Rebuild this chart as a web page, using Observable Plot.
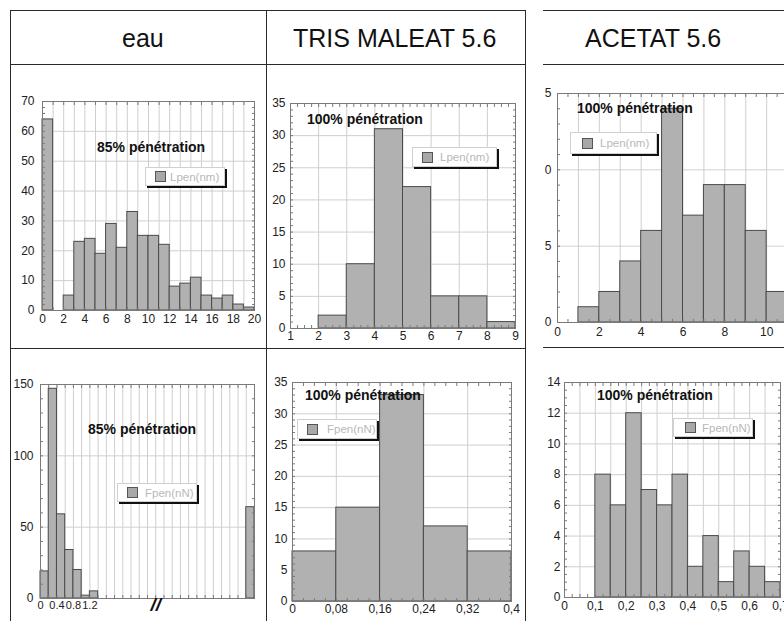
<!DOCTYPE html>
<html>
<head>
<meta charset="utf-8">
<script src="https://cdn.jsdelivr.net/npm/d3@7"></script>
<script src="https://cdn.jsdelivr.net/npm/@observablehq/plot@0.6"></script>
<style>
  html, body { margin: 0; padding: 0; background: #fff; }
  body { width: 784px; height: 621px; overflow: hidden; position: relative; font-family: "Liberation Sans", Arial, sans-serif; }
  .hl { position: absolute; height: 0; border-top: 1.5px solid #2a2a2a; }
  .vl { position: absolute; width: 0; border-left: 1.5px solid #2a2a2a; }
  .head { position: absolute; font-size: 25px; color: #111; white-space: nowrap; line-height: 1; }
  .pen { position: absolute; font-size: 14px; font-weight: bold; color: #111; white-space: nowrap; line-height: 1; }
  .leg { position: absolute; background: #fff; border: 1px solid #d0d0d0; box-shadow: 2px 2px 0 #111; box-sizing: border-box; }
  .leg .sw { position: absolute; width: 9px; height: 9px; background: #a8a8a8; border: 1px solid #555; }
  .leg .lt { position: absolute; font-size: 11.5px; color: #b8b8b8; white-space: nowrap; line-height: 1; }
  #col3 { position: absolute; left: 543px; top: 0; width: 241px; height: 621px; overflow: hidden; }
  svg { max-width: none !important; }
</style>
</head>
<body>
<div id="root"></div>
<div id="col3"></div>
<script>
// ---- Data ----
const columnTitles = ["eau", "TRIS MALEAT 5.6", "ACETAT 5.6"];
const penetrationLabels = ["85% pénétration", "100% pénétration", "100% pénétration"];
const legendLabels = ["Lpen(nm)", "Fpen(nN)"];

// Row 1: Lpen (nm) histograms
const eauLpenBins = [0,1,2,3,4,5,6,7,8,9,10,11,12,13,14,15,16,17,18,19];
const eauLpenCounts = [64,0,5,23,24,19,29,21,33,25,25,22,8,9,11,5,4,5,2,1];
const eauLpenXTicks = [0,2,4,6,8,10,12,14,16,18,20];
const eauLpenYTicks = [0,10,20,30,40,50,60,70];

const trisLpenBins = [1,2,3,4,5,6,7,8];
const trisLpenCounts = [0,2,10,31,22,5,5,1];
const trisLpenXTicks = [1,2,3,4,5,6,7,8,9];
const trisLpenYTicks = [0,5,10,15,20,25,30,35];

const acetatLpenBins = [1,2,3,4,5,6,7,8,9,10];
const acetatLpenCounts = [1,2,4,6,14,7,9,9,6,2];
const acetatLpenXTicks = [0,2,4,6,8,10];
const acetatLpenYTicks = [0,5,10,15];
// the scanned figure is cropped on its left: only the last digit of each y label shows
const acetatLpenYTickLabels = ["0","5","0","5"];

// Row 2: Fpen (nN) histograms
const eauFpenBins = [0,0.2,0.4,0.6,0.8,1.0,1.2,5.0];
const eauFpenCounts = [19,147,59,34,20,2,5,64];
const eauFpenXTicks = [0,0.4,0.8,1.2];
const eauFpenYTicks = [0,50,100,150];
const eauFpenBreak = [{x: 2.8, text: "//"}];

const trisFpenBins = [0,0.08,0.16,0.24,0.32];
const trisFpenCounts = [8,15,33,12,8];
const trisFpenXTicks = [0,0.08,0.16,0.24,0.32,0.4];
const trisFpenYTicks = [0,5,10,15,20,25,30,35];

const acetatFpenBins = [0.10,0.15,0.20,0.25,0.30,0.35,0.40,0.45,0.50,0.55,0.60,0.65];
const acetatFpenCounts = [8,6,12,7,6,8,2,4,1,3,2,1];
const acetatFpenXTicks = [0,0.1,0.2,0.3,0.4,0.5,0.6,0.7];
const acetatFpenYTicks = [0,2,4,6,8,10,12,14];

// ---- helpers ----
const comma = d => String(d).replace(".", ",");
const FRAME = "#7a7a7a";
const GRID = "#cfcfcf";

function hist(spec) {
  const data = spec.bins.map((b, i) => ({x1: b, x2: b + spec.binWidth, y: spec.counts[i]}));
  const marks = [
    Plot.gridX(spec.gridX, {stroke: GRID, strokeOpacity: 1}),
    Plot.gridY(spec.gridY, {stroke: GRID, strokeOpacity: 1}),
    Plot.rectY(data, {x1: "x1", x2: "x2", y: "y", fill: "#b1b1b1", stroke: "#4a4a4a", strokeWidth: 1}),
    Plot.frame({stroke: FRAME}),
    Plot.axisX(spec.minorX, {anchor: "bottom", tickSize: -3, tickFormat: () => "", label: null, stroke: FRAME}),
    Plot.axisX(spec.minorX, {anchor: "top", tickSize: -3, tickFormat: () => "", label: null, stroke: FRAME}),
    Plot.axisY(spec.minorY, {anchor: "left", tickSize: -3, tickFormat: () => "", label: null, stroke: FRAME}),
    Plot.axisY(spec.minorY, {anchor: "right", tickSize: -3, tickFormat: () => "", label: null, stroke: FRAME}),
    Plot.axisX(spec.xTicks, {anchor: "bottom", tickSize: 0, tickPadding: spec.xPad, tickFormat: spec.xFormat || (d => String(d)), label: null, fontSize: spec.xFont || 12, fill: "#222"}),
    Plot.axisY(spec.yTicks, {anchor: "left", tickSize: 0, tickPadding: spec.yPad, tickFormat: spec.yFormat || (d => String(d)), label: null, fontSize: 12, fill: "#222"})
  ];
  if (spec.extra) marks.push(...spec.extra);
  const svg = Plot.plot({
    width: spec.width, height: spec.height,
    marginLeft: spec.m[3], marginRight: spec.m[1], marginTop: spec.m[0], marginBottom: spec.m[2],
    style: {fontFamily: '"Liberation Sans", Arial, sans-serif', background: "transparent", overflow: "visible"},
    x: {domain: spec.xDomain, label: null},
    y: {domain: spec.yDomain, label: null},
    marks
  });
  svg.style.position = "absolute";
  svg.style.left = spec.left + "px";
  svg.style.top = spec.top + "px";
  svg.style.maxWidth = "none";
  svg.style.width = spec.width + "px";
  svg.style.height = spec.height + "px";
  return svg;
}

const root = document.getElementById("root");
const col3 = document.getElementById("col3");

// Row 1
root.appendChild(hist({
  bins: eauLpenBins, counts: eauLpenCounts, binWidth: 1,
  xDomain: [0, 20], yDomain: [0, 70],
  xTicks: eauLpenXTicks, yTicks: eauLpenYTicks,
  gridX: d3.range(0, 21, 1), gridY: d3.range(10, 70, 10),
  minorX: d3.range(0, 21, 1), minorY: d3.range(0, 71, 2),
  left: 11, top: 67, width: 254, height: 280, m: [34, 11, 37, 31], xPad: 4, yPad: 8
}));
root.appendChild(hist({
  bins: trisLpenBins, counts: trisLpenCounts, binWidth: 1,
  xDomain: [1, 9], yDomain: [0, 35],
  xTicks: trisLpenXTicks, yTicks: trisLpenYTicks,
  gridX: d3.range(1, 10, 1), gridY: d3.range(5, 35, 5),
  minorX: d3.range(1, 9.01, 0.25), minorY: d3.range(0, 35.01, 1),
  left: 267, top: 67, width: 257, height: 280, m: [36, 9, 19, 23], xPad: 3, yPad: 5
}));
col3.appendChild(hist({
  bins: acetatLpenBins, counts: acetatLpenCounts, binWidth: 1,
  xDomain: [0, 12], yDomain: [0, 15],
  xTicks: acetatLpenXTicks, yTicks: acetatLpenYTicks,
  yFormat: d => acetatLpenYTickLabels[acetatLpenYTicks.indexOf(d)],
  gridX: d3.range(0, 13, 1), gridY: d3.range(5, 15, 5),
  minorX: d3.range(0, 12.01, 0.5), minorY: d3.range(0, 15.01, 1),
  left: 530 - 543, top: 67, width: 290, height: 280, m: [26, 12, 25, 27], xPad: 5, yPad: 6
}));

// Row 2
root.appendChild(hist({
  bins: eauFpenBins, counts: eauFpenCounts, binWidth: 0.2,
  xDomain: [0, 5.2], yDomain: [0, 150],
  xTicks: eauFpenXTicks, yTicks: eauFpenYTicks, xFont: 11,
  gridX: d3.range(0, 5.21, 0.2), gridY: [50, 100],
  minorX: d3.range(0, 5.21, 0.2), minorY: d3.range(0, 150.1, 10),
  left: 11, top: 351, width: 254, height: 270, m: [33, 11, 23, 29], xPad: 3, yPad: 7,
  extra: [Plot.text(eauFpenBreak, {x: "x", y: () => 0, text: "text", fontSize: 19, fontWeight: "bold", fontStyle: "italic", dy: 6, fill: "#111"})]
}));
root.appendChild(hist({
  bins: trisFpenBins, counts: trisFpenCounts, binWidth: 0.08,
  xDomain: [0, 0.4], yDomain: [0, 35],
  xTicks: trisFpenXTicks, yTicks: trisFpenYTicks, xFormat: comma,
  gridX: trisFpenXTicks, gridY: d3.range(5, 35, 5),
  minorX: d3.range(0, 0.401, 0.02), minorY: d3.range(0, 35.01, 1),
  left: 267, top: 351, width: 257, height: 270, m: [31, 13, 20, 25], xPad: 3, yPad: 5
}));
col3.appendChild(hist({
  bins: acetatFpenBins, counts: acetatFpenCounts, binWidth: 0.05,
  xDomain: [0, 0.7], yDomain: [0, 14],
  xTicks: acetatFpenXTicks, yTicks: acetatFpenYTicks, xFormat: comma,
  gridX: d3.range(0, 0.701, 0.05), gridY: d3.range(2, 14, 2),
  minorX: d3.range(0, 0.701, 0.025), minorY: d3.range(0, 14.01, 0.5),
  left: 0, top: 351, width: 260, height: 270, m: [31, 23, 24, 21], xPad: 4, yPad: 4
}));

// ---- Table lines ----
function hline(parent, x, y, w) { const d = document.createElement("div"); d.className = "hl"; d.style.left = x + "px"; d.style.top = y + "px"; d.style.width = w + "px"; parent.appendChild(d); }
function vline(parent, x, y, h) { const d = document.createElement("div"); d.className = "vl"; d.style.left = x + "px"; d.style.top = y + "px"; d.style.height = h + "px"; parent.appendChild(d); }
hline(root, 10, 10, 516); hline(root, 10, 64, 516); hline(root, 10, 348, 516);
vline(root, 10, 10, 620); vline(root, 265.5, 10, 620); vline(root, 524.5, 10, 620);
hline(col3, 0, 10, 250); hline(col3, 0, 64, 250); hline(col3, 0, 347, 250);

// ---- Header text ----
function text(parent, cls, str, x, y) { const d = document.createElement("div"); d.className = cls; d.textContent = str; d.style.left = x + "px"; d.style.top = y + "px"; parent.appendChild(d); return d; }
text(root, "head", columnTitles[0], 122, 26);
text(root, "head", columnTitles[1], 293, 26);
text(col3, "head", columnTitles[2], 585 - 543, 26);

// ---- Penetration labels ----
text(root, "pen", penetrationLabels[0], 97, 140);
text(root, "pen", penetrationLabels[1], 307, 112);
text(col3, "pen", penetrationLabels[2], 577 - 543, 101);
text(root, "pen", penetrationLabels[0], 88, 422);
text(root, "pen", penetrationLabels[1], 305, 388);
text(col3, "pen", penetrationLabels[2], 597 - 543, 388);

// ---- Legends ----
function legend(parent, label, x, y, w, h, sx, tx) {
  const d = document.createElement("div"); d.className = "leg";
  d.style.left = x + "px"; d.style.top = y + "px"; d.style.width = w + "px"; d.style.height = h + "px";
  const s = document.createElement("div"); s.className = "sw"; s.style.left = (sx - x - 1) + "px"; s.style.top = ((h - 11) / 2 - 1) + "px";
  const t = document.createElement("div"); t.className = "lt"; t.textContent = label; t.style.left = (tx - x - 1) + "px"; t.style.top = ((h - 12) / 2) + "px";
  d.appendChild(s); d.appendChild(t); parent.appendChild(d);
}
legend(root, legendLabels[0], 145, 167, 80, 19, 155, 170);
legend(root, legendLabels[0], 412, 147, 85, 20, 422, 440);
legend(col3, legendLabels[0], 570 - 543, 132, 87, 22, 582 - 543, 600 - 543);
legend(root, legendLabels[1], 117, 483, 80, 19, 127, 145);
legend(root, legendLabels[1], 297, 419, 80, 20, 307, 327);
legend(col3, legendLabels[1], 673 - 543, 418, 80, 19, 685 - 543, 702 - 543);
</script>
</body>
</html>
